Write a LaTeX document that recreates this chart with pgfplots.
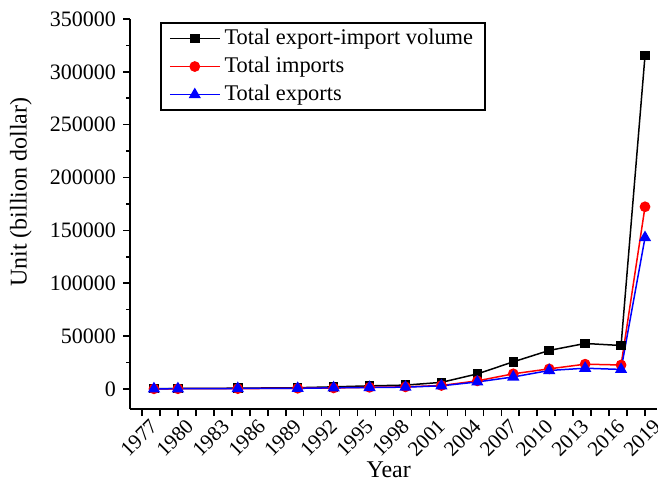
\documentclass[border=0pt]{standalone}
\usepackage{fontspec}
\setmainfont{Liberation Serif}
\usepackage{pgfplots}
\pgfplotsset{compat=1.18}

\begin{document}
\begin{tikzpicture}
\begin{axis}[
    name=ax,
    scale only axis,
    width=263.5pt, height=195pt,
    xmin=1976, xmax=2020,
    ymin=-19000, ymax=350000,
    axis x line=bottom, axis y line=left,
    axis line style={-, line width=1pt},
    tick align=outside,
    tick style={black, line width=0.8pt},
    major tick length=3.5pt, minor tick length=1.8pt,
    xtick={1977,1978.5,...,2019},
    xticklabels={1977,,1980,,1983,,1986,,1989,,1992,,1995,,1998,,2001,,2004,,2007,,2010,,2013,,2016,,2019},
    ytick={0,50000,100000,150000,200000,250000,300000,350000},
    yticklabels={0,50000,100000,150000,200000,250000,300000,350000},
    minor y tick num=1,
    scaled y ticks=false,
    yticklabel style={font=\fontsize{11}{13}\selectfont},
    xticklabel style={font=\fontsize{10.5}{12}\selectfont, anchor=center, xshift=-1.5pt, yshift=-11pt, rotate=45, inner sep=0pt},
    xlabel={Year},
    ylabel={Unit (billion dollar)},
    label style={font=\fontsize{12}{14}\selectfont},
    xlabel style={at={(axis description cs:0.491,-0.156)}, anchor=center},
    ylabel style={at={(axis description cs:-0.207,0.556)}, anchor=center},
    legend style={at={(axis description cs:0.057,0.992)}, anchor=north west,
        draw=black, line width=1pt, font=\fontsize{11.2}{12.5}\selectfont,
        row sep=0.8pt, inner xsep=4pt, inner ysep=1pt},
    legend cell align=left,
    legend image code/.code={\draw[mark repeat=2,mark phase=2,line width=0.75pt] plot coordinates {(0pt,0pt)(12.5pt,0pt)(25pt,0pt)};},
]
\addplot[black, line width=0.75pt, mark=square*, mark size=2pt] coordinates {
 (1978,206.4) (1980,381.4) (1985,696.0) (1990,1154.4) (1993,1957.0) (1996,2898.8)
 (1999,3606.3) (2002,6207.7) (2005,14219.1) (2008,25632.6) (2011,36418.6)
 (2014,43015.3) (2017,41071.4) (2019,315446)};
\addplot[red, line width=0.75pt, mark=*, mark size=2.3pt] coordinates {
 (1978,97.5) (1980,181.2) (1985,273.5) (1990,620.9) (1993,917.4) (1996,1510.5)
 (1999,1949.3) (2002,3255.7) (2005,7619.5) (2008,14306.9) (2011,18983.8)
 (2014,23422.9) (2017,22633.5) (2019,172342)};
\addplot[blue, line width=0.75pt, mark=triangle*, mark size=2.8pt] coordinates {
 (1978,108.9) (1980,200.2) (1985,422.5) (1990,533.5) (1993,1039.6) (1996,1388.3)
 (1999,1657.0) (2002,2951.7) (2005,6599.5) (2008,11325.6) (2011,17434.8)
 (2014,19592.4) (2017,18437.9) (2019,143162)};
\legend{Total export-import volume, Total imports, Total exports}
\end{axis}
\pgfresetboundingbox
\path (-65pt,-37pt) rectangle (264pt,204.5pt);
\end{tikzpicture}
\end{document}
